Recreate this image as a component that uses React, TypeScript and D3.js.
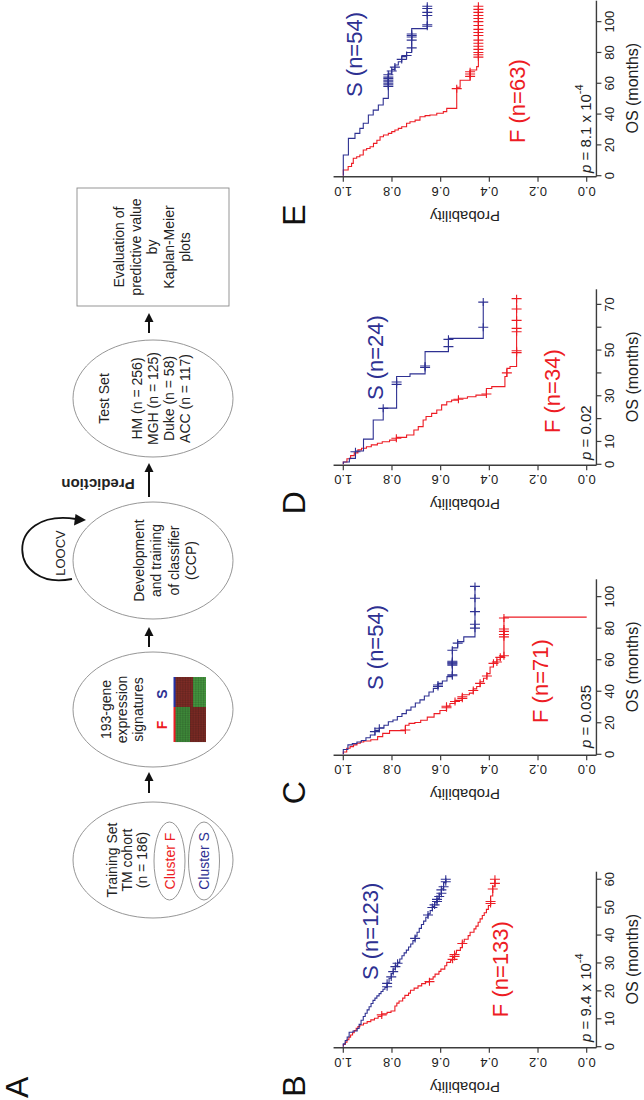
import React from "react";
import * as d3 from "d3";

const FONT = "'Liberation Sans', Arial, Helvetica, sans-serif";
const BLUE = "#2e3192";
const RED = "#ed1c24";
const AXIS = "#3c3c3c";

type Pt = [number, number];

const probTicks = [0, 0.2, 0.4, 0.6, 0.8, 1.0];
const probLabels = ["0.0", "0.2", "0.4", "0.6", "0.8", "1.0"];

// ---------- Panel B ----------
const bTimeTicks = [0, 10, 20, 30, 40, 50, 60];
const bTimeLabels = [0, 10, 20, 30, 40, 50, 60];
const bSSteps: Pt[] = [
  [1.0, 0.992], [2.2, 0.984], [3.5, 0.976], [5.2, 0.96], [5.6, 0.943], [6.5, 0.935],
  [8.0, 0.927], [9.5, 0.918], [10.8, 0.91], [12.0, 0.902], [13.2, 0.894], [14.3, 0.886],
  [15.5, 0.878], [16.6, 0.87], [17.4, 0.862], [18.2, 0.853], [19.0, 0.845], [19.8, 0.837],
  [20.6, 0.829], [21.2, 0.82], [22.8, 0.812], [24.5, 0.803], [26.2, 0.795], [27.8, 0.786],
  [29.2, 0.777], [30.2, 0.768], [31.4, 0.759], [32.6, 0.75], [33.6, 0.741], [34.6, 0.732],
  [35.7, 0.723], [36.8, 0.714], [38.0, 0.705], [39.6, 0.697], [41.0, 0.688], [42.4, 0.679],
  [43.8, 0.67], [45.0, 0.661], [46.4, 0.652], [47.6, 0.643], [48.8, 0.634], [50.2, 0.625],
  [51.6, 0.615], [53.0, 0.606], [54.6, 0.597], [56.6, 0.588], [58.8, 0.579],
];
const bSCens = [21.5, 22.7, 25.0, 26.9, 28.7, 29.9, 38.8, 47.2, 49.9, 50.8, 52.0, 52.8, 53.8, 55.0, 56.2, 57.3, 59.1, 60.0];
const bFSteps: Pt[] = [
  [0.8, 0.992], [1.6, 0.985], [2.5, 0.977], [3.4, 0.97], [4.2, 0.962], [5.0, 0.955],
  [5.8, 0.947], [6.6, 0.94], [7.2, 0.932], [7.8, 0.917], [8.4, 0.902], [9.0, 0.887],
  [9.6, 0.872], [10.2, 0.857], [10.8, 0.842], [11.8, 0.82], [12.3, 0.804], [12.8, 0.788],
  [14.6, 0.78], [15.6, 0.771], [16.4, 0.756], [17.4, 0.747], [18.4, 0.732], [19.2, 0.724],
  [20.2, 0.709], [21.0, 0.693], [21.8, 0.678], [22.6, 0.662], [23.2, 0.646], [24.2, 0.631],
  [25.0, 0.623], [26.0, 0.607], [27.0, 0.599], [27.8, 0.583], [29.0, 0.575], [30.2, 0.559],
  [31.0, 0.551], [32.0, 0.543], [33.5, 0.535], [34.5, 0.519], [35.5, 0.511], [37.5, 0.503],
  [38.5, 0.487], [39.8, 0.479], [41.0, 0.463], [42.2, 0.455], [43.2, 0.446], [44.6, 0.438],
  [45.8, 0.429], [47.0, 0.421], [48.0, 0.412], [49.2, 0.404], [50.6, 0.395], [54.0, 0.386],
  [57.5, 0.377],
];
const bFCens = [11.4, 23.3, 31.3, 32.3, 33.0, 37.0, 51.3, 52.0, 56.5, 58.5, 60.0];

// ---------- Panel C ----------
const cTimeTicks = [0, 20, 40, 60, 80, 100];
const cTimeLabels = [0, 20, 40, 60, 80, 100];
const cSSteps: Pt[] = [
  [3.0, 0.981], [6.0, 0.963], [6.8, 0.944], [7.8, 0.926], [8.8, 0.907], [10.5, 0.889],
  [12.2, 0.87], [15.2, 0.852], [16.8, 0.833], [18.4, 0.815], [20.6, 0.796], [21.8, 0.778],
  [24.0, 0.759], [25.8, 0.741], [28.0, 0.722], [30.0, 0.704], [32.5, 0.685], [34.5, 0.667],
  [37.0, 0.648], [39.5, 0.63], [41.8, 0.611], [45.0, 0.593], [46.5, 0.574], [49.3, 0.552],
  [67.5, 0.53], [71.5, 0.505], [74.5, 0.459],
];
const cSCens = [14.4, 16.5, 43.0, 44.0, 49.8, 50.5, 56.5, 57.2, 57.8, 58.4, 59.0, 66.0, 70.5, 80.0, 82.5, 90.5, 99.0, 106.5];
const cFSteps: Pt[] = [
  [1.5, 0.986], [3.8, 0.972], [4.9, 0.958], [6.0, 0.944], [7.0, 0.93], [7.8, 0.916],
  [8.4, 0.887], [9.2, 0.859], [11.2, 0.838], [13.3, 0.81], [15.0, 0.745], [18.4, 0.73],
  [19.6, 0.706], [20.2, 0.682], [21.6, 0.655], [23.6, 0.627], [25.8, 0.603], [27.8, 0.576],
  [30.6, 0.562], [32.2, 0.541], [34.2, 0.511], [37.8, 0.482], [38.8, 0.466], [41.5, 0.452],
  [43.0, 0.438], [46.0, 0.424], [48.2, 0.41], [51.2, 0.397], [55.4, 0.383], [58.5, 0.369],
  [60.0, 0.355], [62.0, 0.34], [87.0, 0.0],
];
const cFCens = [15.4, 29.5, 30.5, 33.5, 35.5, 36.5, 40.5, 45.0, 49.7, 57.7, 58.5, 61.5, 62.5, 74.5, 76.0, 78.0, 79.5, 86.5];

// ---------- Panel D ----------
const dTimeTicks = [0, 10, 20, 30, 40, 50, 60, 70];
const dTimeLabels = [0, 10, 30, 50, 70];
const dSSteps: Pt[] = [
  [1.0, 0.975], [2.6, 0.95], [5.8, 0.917], [11.0, 0.877], [19.4, 0.836], [24.6, 0.781],
  [38.4, 0.726], [39.6, 0.664], [49.3, 0.568], [55.1, 0.425],
];
const dSCens = [5.5, 24.5, 35.0, 36.0, 42.4, 43.0, 51.5, 54.7, 60.0, 71.0];
const dFSteps: Pt[] = [
  [1.0, 0.985], [2.4, 0.97], [3.8, 0.955], [5.0, 0.94], [6.3, 0.925], [7.0, 0.905],
  [7.7, 0.885], [8.5, 0.86], [9.2, 0.84], [9.9, 0.81], [10.6, 0.782], [11.8, 0.74],
  [12.8, 0.71], [15.0, 0.692], [16.5, 0.672], [19.4, 0.66], [20.9, 0.637], [22.3, 0.616],
  [23.8, 0.596], [26.0, 0.575], [27.4, 0.555], [28.1, 0.527], [28.9, 0.49], [29.6, 0.455],
  [30.3, 0.412], [33.2, 0.39], [34.0, 0.336], [38.4, 0.328], [42.0, 0.315], [42.8, 0.288],
];
const dFCens = [11.4, 28.5, 30.8, 40.0, 48.9, 49.7, 58.0, 59.5, 63.0, 68.0, 72.5];

// ---------- Panel E ----------
const eTimeTicks = [0, 20, 40, 60, 80, 100];
const eTimeLabels = [0, 20, 40, 60, 80, 100];
const eSSteps: Pt[] = [
  [13.4, 0.979], [24.2, 0.952], [27.5, 0.932], [30.7, 0.918], [34.0, 0.897], [39.4, 0.877],
  [42.6, 0.856], [45.9, 0.836], [50.2, 0.815], [66.5, 0.801], [69.0, 0.788], [71.9, 0.774],
  [74.0, 0.76], [77.3, 0.74], [80.0, 0.719], [95.5, 0.655],
];
const eSCens = [58, 59, 60, 61, 62, 63, 64, 65.5, 68, 70.5, 75.5, 78, 83, 88, 90, 91, 92, 97, 98, 104, 106, 108.5, 110];
const eFSteps: Pt[] = [
  [3.7, 0.98], [6.0, 0.966], [8.0, 0.959], [11.3, 0.945], [12.3, 0.932], [13.4, 0.918],
  [16.7, 0.904], [17.7, 0.89], [18.8, 0.876], [21.0, 0.862], [23.0, 0.849], [25.3, 0.835],
  [26.4, 0.815], [27.5, 0.801], [28.6, 0.788], [29.7, 0.774], [30.7, 0.76], [31.8, 0.74],
  [34.0, 0.726], [35.0, 0.705], [36.1, 0.685], [38.3, 0.664], [39.0, 0.644], [39.4, 0.616],
  [40.5, 0.589], [41.6, 0.575], [43.7, 0.534], [57.4, 0.52], [62.0, 0.479], [68.6, 0.452],
  [70.8, 0.445],
];
const eFCens = [56.5, 64.5, 66, 67.5, 77, 78.5, 80, 82, 84, 86, 88, 91, 93, 95, 97.5, 100, 102, 104, 106, 108, 110];

// ---------- Flowchart text ----------
const trainingLines = ["Training Set", "TM cohort", "(n = 186)"];
const geneLines = ["193-gene", "expression", "signatures"];
const devLines = ["Development", "and training", "of classifier", "(CCP)"];
const testTitle = "Test Set";
const testLines = ["HM (n = 256)", "MGH (n = 125)", "Duke (n = 58)", "ACC (n = 117)"];
const evalLines = ["Evaluation of", "predictive value", "by", "Kaplan-Meier", "plots"];

type Panel = {
  letter: string;
  u0: number;
  xmax: number;
  ticks: number[];
  labels: number[];
  s: Pt[];
  sc: number[];
  f: Pt[];
  fc: number[];
  sText: string;
  fText: string;
  sAt: Pt;
  fAt: Pt;
  pAt: Pt;
  pMain: string;
  pExp: string;
};

const panels: Panel[] = [
  { letter: "B", u0: 53.3, xmax: 62.7, ticks: bTimeTicks, labels: bTimeLabels, s: bSSteps, sc: bSCens, f: bFSteps, fc: bFCens,
    sText: "S (n=123)", fText: "F (n=133)", sAt: [23.9, 0.857], fAt: [10.6, 0.323], pAt: [1.7, -0.018], pMain: " = 9.4 x 10", pExp: "-4" },
  { letter: "C", u0: 345.7, xmax: 111, ticks: cTimeTicks, labels: cTimeLabels, s: cSSteps, sc: cSCens, f: cFSteps, fc: cFCens,
    sText: "S (n=54)", fText: "F (n=71)", sAt: [40.8, 0.837], fAt: [19.9, 0.159], pAt: [4.0, -0.018], pMain: " = 0.035", pExp: "" },
  { letter: "D", u0: 635.7, xmax: 76.6, ticks: dTimeTicks, labels: dTimeLabels, s: dSSteps, sc: dSCens, f: dFSteps, fc: dFCens,
    sText: "S (n=24)", fText: "F (n=34)", sAt: [28.1, 0.837], fAt: [13.7, 0.11], pAt: [1.9, -0.018], pMain: " = 0.02", pExp: "" },
  { letter: "E", u0: 924.3, xmax: 113.6, ticks: eTimeTicks, labels: eTimeLabels, s: eSSteps, sc: eSCens, f: eFSteps, fc: eFCens,
    sText: "S (n=54)", fText: "F (n=63)", sAt: [51.1, 0.923], fAt: [21.2, 0.253], pAt: [1.8, -0.018], pMain: " = 8.1 x 10", pExp: "-4" },
];

const AXLEN = 175;
const ys = d3.scaleLinear().domain([0, 1]).range([586.7, 343.3]);

function pAtTime(steps: Pt[], t: number) {
  let p = 1;
  for (const [ts, ps] of steps) if (ts <= t) p = ps;
  return p;
}

function KMPanel({ P }: { P: Panel }) {
  const xs = d3.scaleLinear().domain([0, P.xmax]).range([P.u0, P.u0 + AXLEN]);
  const line = d3
    .line<Pt>()
    .x((d) => xs(d[0]))
    .y((d) => ys(d[1]))
    .curve(d3.curveStepAfter);
  const curve = (steps: Pt[], cens: number[]) => {
    const pts: Pt[] = [[0, 1], ...steps];
    const last = pts[pts.length - 1];
    const tEnd = Math.max(last[0], cens.length ? cens[cens.length - 1] : 0);
    if (tEnd > last[0]) pts.push([tEnd, last[1]]);
    return line(pts) || "";
  };
  const marks = (steps: Pt[], cens: number[], color: string) =>
    cens.map((t, i) => {
      const x = xs(t);
      const y = ys(pAtTime(steps, t));
      return (
        <path key={i} d={`M${x - 4},${y}H${x + 4}M${x},${y - 5}V${y + 5}`} stroke={color} strokeWidth={1.1} fill="none" />
      );
    });
  const axV = ys(-0.04);
  const axU = P.u0 - 1;
  return (
    <g>
      {/* axes */}
      <line x1={axU} x2={axU} y1={ys(1.04)} y2={axV} stroke={AXIS} strokeWidth={1.4} />
      <line x1={axU} x2={P.u0 + AXLEN} y1={axV} y2={axV} stroke={AXIS} strokeWidth={1.4} />
      {probTicks.map((p, i) => (
        <g key={i}>
          <line x1={axU} x2={axU - 5} y1={ys(p)} y2={ys(p)} stroke={AXIS} strokeWidth={1.2} />
          <text
            transform={`translate(${axU - 10},${ys(p)}) rotate(-90)`}
            textAnchor="middle"
            fontSize={13}
            fill="#222"
          >
            {probLabels[i]}
          </text>
        </g>
      ))}
      {P.ticks.map((t, i) => (
        <line key={i} x1={xs(t)} x2={xs(t)} y1={axV} y2={axV + 5} stroke={AXIS} strokeWidth={1.2} />
      ))}
      {P.labels.map((t, i) => (
        <text key={i} x={xs(t)} y={axV + 18} textAnchor="middle" fontSize={13} fill="#222">
          {t}
        </text>
      ))}
      <text x={P.u0 + AXLEN / 2} y={axV + 42} textAnchor="middle" fontSize={16} fill="#222">
        OS (months)
      </text>
      <text transform={`translate(${P.u0 - 35},${ys(0.5)}) rotate(-90)`} textAnchor="middle" fontSize={15} fill="#222">
        Probability
      </text>
      <text x={P.u0 - 50} y={305} fontSize={32} fill="#111">
        {P.letter}
      </text>
      {/* curves */}
      <path d={curve(P.f, P.fc)} stroke={RED} strokeWidth={1.1} fill="none" />
      <path d={curve(P.s, P.sc)} stroke={BLUE} strokeWidth={1.1} fill="none" />
      {marks(P.f, P.fc, RED)}
      {marks(P.s, P.sc, BLUE)}
      {/* labels */}
      <text x={xs(P.sAt[0])} y={ys(P.sAt[1])} fontSize={22} fill={BLUE}>
        {P.sText}
      </text>
      <text x={xs(P.fAt[0])} y={ys(P.fAt[1])} fontSize={22} fill={RED}>
        {P.fText}
      </text>
      <text x={xs(P.pAt[0])} y={ys(P.pAt[1])} fontSize={15} fill="#222">
        <tspan fontStyle="italic">p</tspan>
        {P.pMain}
        {P.pExp ? (
          <tspan dy={-8} fontSize={11}>
            {P.pExp}
          </tspan>
        ) : null}
      </text>
    </g>
  );
}

function Arrow({ u1, u2, v }: { u1: number; u2: number; v: number }) {
  return (
    <g>
      <line x1={u1} x2={u2 - 6} y1={v} y2={v} stroke="#111" strokeWidth={2} />
      <path d={`M${u2},${v}L${u2 - 9},${v - 4.5}L${u2 - 9},${v + 4.5}Z`} fill="#111" />
    </g>
  );
}

function Lines({ lines, u, v0, dv, size = 14, color = "#222" }: { lines: string[]; u: number; v0: number; dv: number; size?: number; color?: string }) {
  return (
    <g>
      {lines.map((s, i) => (
        <text key={i} x={u} y={v0 + i * dv} textAnchor="middle" dominantBaseline="central" fontSize={size} fill={color}>
          {s}
        </text>
      ))}
    </g>
  );
}

function Flowchart() {
  const ELL = "#8a8a8a";
  const v = 153;
  // heatmap blocks
  const hm = { u1: 358, um: 393, u2: 423, v1: 175, v2: 206 };
  const rows = d3.range(hm.v1, hm.v2, 2.6);
  const cols = d3.range(hm.u1, hm.u2, 2.2);
  return (
    <g>
      <text x={2} y={28} fontSize={32} fill="#111">A</text>
      {/* Training */}
      <ellipse cx={240} cy={v} rx={58} ry={80} fill="none" stroke={ELL} strokeWidth={0.9} />
      <Lines lines={trainingLines} u={240} v0={112} dv={15} />
      <ellipse cx={239} cy={169.5} rx={39} ry={15.5} fill="none" stroke={ELL} strokeWidth={0.9} />
      <ellipse cx={239} cy={204} rx={39} ry={15.5} fill="none" stroke={ELL} strokeWidth={0.9} />
      <text x={239} y={170} textAnchor="middle" dominantBaseline="central" fontSize={14} fill={RED}>Cluster F</text>
      <text x={239} y={204} textAnchor="middle" dominantBaseline="central" fontSize={14} fill={BLUE}>Cluster S</text>
      <Arrow u1={307} u2={328} v={149} />
      {/* 193-gene */}
      <ellipse cx={390.5} cy={v} rx={57.5} ry={80} fill="none" stroke={ELL} strokeWidth={0.9} />
      <Lines lines={geneLines} u={390.5} v0={106} dv={16} />
      <text x={375} y={162} textAnchor="middle" dominantBaseline="central" fontSize={14} fontWeight="bold" fill={RED}>F</text>
      <text x={406} y={162} textAnchor="middle" dominantBaseline="central" fontSize={14} fontWeight="bold" fill={BLUE}>S</text>
      <rect x={hm.u1} y={hm.v1} width={hm.um - hm.u1} height={15} fill="#3f8a3a" />
      <rect x={hm.u1} y={hm.v1 + 15} width={hm.um - hm.u1} height={hm.v2 - hm.v1 - 15} fill="#7a2a24" />
      <rect x={hm.um} y={hm.v1} width={hm.u2 - hm.um} height={18} fill="#7e2c26" />
      <rect x={hm.um} y={hm.v1 + 18} width={hm.u2 - hm.um} height={hm.v2 - hm.v1 - 18} fill="#45963f" />
      {rows.map((r, i) => (
        <line key={"r" + i} x1={hm.u1} x2={hm.u2} y1={r} y2={r} stroke="#111" strokeOpacity={0.22} strokeWidth={0.7} />
      ))}
      {cols.map((c, i) => (
        <line key={"c" + i} x1={c} x2={c} y1={hm.v1} y2={hm.v2} stroke="#111" strokeOpacity={0.18} strokeWidth={0.6} />
      ))}
      <rect x={hm.u1} y={hm.v1 - 1.5} width={hm.um - hm.u1} height={2} fill={RED} />
      <rect x={hm.um} y={hm.v1 - 1.5} width={hm.u2 - hm.um} height={2} fill="#2233aa" />
      <Arrow u1={453} u2={473} v={149} />
      {/* Development */}
      <ellipse cx={539.5} cy={v} rx={58.5} ry={80} fill="none" stroke={ELL} strokeWidth={0.9} />
      <Lines lines={devLines} u={539.5} v0={139} dv={17.3} />
      <text x={547} y={60} textAnchor="middle" dominantBaseline="central" fontSize={13} fill="#222">LOOCV</text>
      <path d="M521,72 C508,8 592,2 581,76" fill="none" stroke="#111" strokeWidth={1.8} />
      <path d="M580,86 L574.5,74 L586,75.5 Z" fill="#111" />
      <Arrow u1={603} u2={637} v={149} />
      <text transform={`translate(${616},${98}) rotate(-90)`} textAnchor="middle" dominantBaseline="central" fontSize={15} fontWeight="bold" fill="#222">
        Prediction
      </text>
      {/* Test set */}
      <ellipse cx={701.5} cy={v} rx={58.5} ry={80} fill="none" stroke={ELL} strokeWidth={0.9} />
      <text x={701.5} y={104} textAnchor="middle" dominantBaseline="central" fontSize={14} fill="#222">{testTitle}</text>
      <Lines lines={testLines} u={701.5} v0={136.5} dv={16} />
      <Arrow u1={767} u2={787} v={149} />
      {/* Evaluation box */}
      <rect x={794} y={77} width={118} height={152} fill="none" stroke={ELL} strokeWidth={0.9} />
      <Lines lines={evalLines} u={853} v0={119} dv={16.5} />
    </g>
  );
}

export default function App() {
  return (
    <svg
      width={644}
      height={1100}
      style={{ position: "absolute", left: 0, top: 0, background: "#fff" }}
      fontFamily={FONT}
    >
      <rect x={0} y={0} width={644} height={1100} fill="#fff" />
      <g transform="translate(0,1100) rotate(-90)">
        <Flowchart />
        {panels.map((P) => (
          <KMPanel key={P.letter} P={P} />
        ))}
      </g>
    </svg>
  );
}
